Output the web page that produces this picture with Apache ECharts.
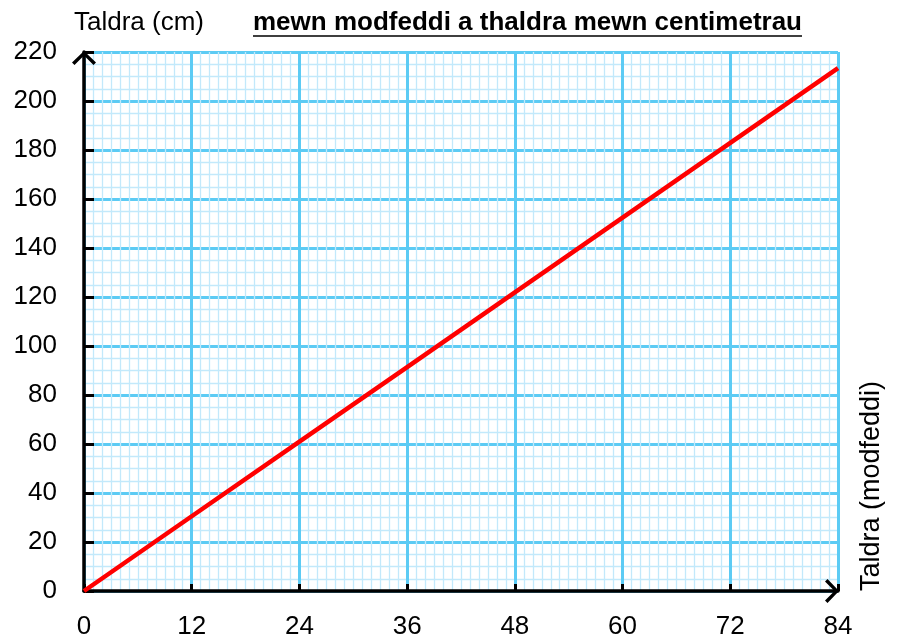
<!DOCTYPE html>
<html>
<head>
<meta charset="utf-8">
<script src="https://cdn.jsdelivr.net/npm/echarts@6/dist/echarts.min.js"></script>
<style>
  html, body { margin: 0; padding: 0; background: #fff; }
  #chart { width: 897px; height: 641px; }
</style>
</head>
<body>
<div id="chart"></div>
<script>
// inches, cm
var inches = [0, 12, 24, 36, 48, 60, 72, 84];
var cm = [0, 30.5, 61, 91.4, 121.9, 152.4, 182.9, 213.4];
var xTicks = [0, 12, 24, 36, 48, 60, 72, 84];
var yTicks = [0, 20, 40, 60, 80, 100, 120, 140, 160, 180, 200, 220];

var titleText = 'mewn modfeddi a thaldra mewn centimetrau';
var yName = 'Taldra (cm)';
var xName = 'Taldra (modfeddi)';

var dom = document.getElementById("chart");
var myChart = echarts.init(dom);
var option = null;

var lineData = inches.map(function (x, i) { return [x, cm[i]]; });
// open arrow head like the hand-drawn axes
var chevron = 'path://M12,0 L24,11.5 L21.5,14 L12,4.5 L2.5,14 L0,11.5 Z';
var font = 'Liberation Sans';

option = {
    animation: false,
    backgroundColor: '#fff',
    title: {
        text: '{t|' + titleText + '}\n{hr|}',
        left: 248,
        top: 5,
        textStyle: {
            rich: {
                t: {
                    fontFamily: font,
                    fontWeight: 'bold',
                    fontSize: 26,
                    color: '#000',
                    lineHeight: 26
                },
                hr: {
                    borderColor: '#000',
                    borderWidth: 1.5,
                    width: '100%',
                    height: 0
                }
            }
        }
    },
    grid: {
        left: 84,
        right: 59,
        top: 52,
        bottom: 50,
        containLabel: false
    },
    xAxis: {
        type: 'value',
        min: xTicks[0],
        max: xTicks[xTicks.length - 1],
        interval: 12,
        name: xName,
        nameLocation: 'end',
        nameRotate: 90,
        nameGap: 34,
        nameTextStyle: {
            fontFamily: font,
            fontSize: 27,
            color: '#000',
            align: 'left',
            verticalAlign: 'middle'
        },
        axisLine: {
            show: true,
            symbol: ['none', chevron],
            symbolSize: [24, 14],
            symbolOffset: [0, -6],
            lineStyle: { color: '#000', width: 3.5 }
        },
        axisTick: {
            show: true,
            inside: true,
            length: 7,
            lineStyle: { color: '#000', width: 3 }
        },
        axisLabel: {
            margin: 23,
            fontFamily: font,
            fontSize: 26,
            color: '#000'
        },
        splitLine: {
            show: true,
            lineStyle: { color: '#5ccbf4', width: 3 }
        },
        minorTick: { show: false, splitNumber: 12 },
        minorSplitLine: {
            show: true,
            lineStyle: { color: '#c2e9fb', width: 1.3 }
        }
    },
    yAxis: {
        type: 'value',
        min: yTicks[0],
        max: yTicks[yTicks.length - 1],
        interval: 20,
        name: yName,
        nameLocation: 'end',
        nameGap: 16,
        nameTextStyle: {
            fontFamily: font,
            fontSize: 26,
            color: '#000',
            align: 'left',
            padding: [0, 0, 0, -10]
        },
        axisLine: {
            show: true,
            symbol: ['none', chevron],
            symbolSize: [24, 14],
            symbolOffset: [0, -6],
            lineStyle: { color: '#000', width: 3.5 }
        },
        axisTick: {
            show: true,
            inside: true,
            length: 10,
            lineStyle: { color: '#000', width: 3 }
        },
        axisLabel: {
            margin: 27,
            fontFamily: font,
            fontSize: 26,
            color: '#000'
        },
        splitLine: {
            show: true,
            lineStyle: { color: '#5ccbf4', width: 3 }
        },
        minorTick: { show: false, splitNumber: 4 },
        minorSplitLine: {
            show: true,
            lineStyle: { color: '#c2e9fb', width: 1.3 }
        }
    },
    series: [{
        type: 'line',
        data: lineData,
        showSymbol: false,
        symbol: 'none',
        lineStyle: { color: '#ff0000', width: 4.5 },
        z: 5
    }]
};

if (option && typeof option === "object") {
    myChart.setOption(option, true);
}
</script>
</body>
</html>
